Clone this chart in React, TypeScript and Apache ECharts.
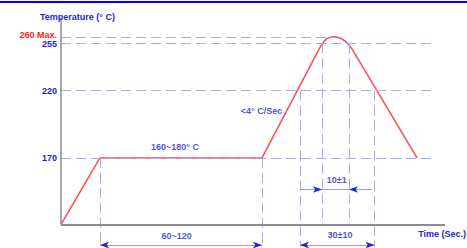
import React, { useEffect, useRef } from "react";
import * as echarts from "echarts";

// Reflow profile (schematic): time in arbitrary chart units, temperature in °C
const PROFILE_TIME = [0, 39, 201, 257, 260, 263, 266, 270, 273, 276, 280, 284, 288, 291, 356];
const PROFILE_TEMP = [120.5, 170, 170, 249.3, 253.4, 256.6, 258.7, 259.8, 260, 259.8, 258.8, 256.8, 254.0, 251.0, 170];

// Horizontal guide levels
const LEVEL_TEMPS = [170, 220, 255, 260];
const LEVEL_LABELS = ["170", "220", "255", "260 Max."];
const LEVEL_END_TIMES = [371, 371, 371, 274];

// Vertical guides
const VERTICAL_TIMES = [39, 201, 239, 261, 288, 313.5];
const VERTICAL_TOP_TEMPS = [170, 170, 220, 255, 255, 220];
const VERTICAL_BOTTOM_TEMPS = [104, 104, 104, 120.5, 120.5, 104];

// Axis extents
const AXIS_BASE_TEMP = 120.5;
const AXIS_TOP_TEMP = 274;
const AXIS_END_TIME = 384;

// Dimension annotations
const DIM_LABELS = ["60~120", "30±10"];
const DIM_STARTS = [39, 239];
const DIM_ENDS = [201, 313.5];
const DIM_TEMP = 105.2;
const INNER_DIM_LABEL = "10±1";
const INNER_DIM_OUTER = [239, 311];
const INNER_DIM_INNER = [261, 288];
const INNER_DIM_TEMP = 146.5;

const BLUE = "#1e1ed8";
const FONT = "'Liberation Sans', Arial, sans-serif";

export default function App() {
  const ref = useRef<HTMLDivElement>(null);
  useEffect(() => {
    if (!ref.current) return;
    const chart = echarts.init(ref.current, null, { renderer: "svg" });

    const textStyle = { color: BLUE, fontSize: 9, fontWeight: "bold", fontFamily: FONT };

    const levelLines = LEVEL_TEMPS.map((t, i) => [
      {
        coord: [0, t],
        label: {
          show: true,
          position: "start",
          distance: 4,
          formatter: LEVEL_LABELS[i],
          ...textStyle,
          color: i === 3 ? "#ff1a1a" : BLUE,
          offset: i === 3 ? [0, -2] : [0, 0],
        },
      },
      { coord: [LEVEL_END_TIMES[i], t] },
    ]);
    const verticalLines = VERTICAL_TIMES.map((x, i) => [
      { coord: [x, VERTICAL_TOP_TEMPS[i]] },
      { coord: [x, VERTICAL_BOTTOM_TEMPS[i]] },
    ]);
    const dimLines = DIM_STARTS.map((s, i) => [
      { coord: [s, DIM_TEMP] },
      { coord: [DIM_ENDS[i], DIM_TEMP] },
    ]);
    dimLines.push([
      { coord: [INNER_DIM_OUTER[0], INNER_DIM_TEMP] },
      { coord: [INNER_DIM_OUTER[1], INNER_DIM_TEMP] },
    ]);

    const option: any = {
      animation: false,
      grid: { left: 61, right: 22, top: 18, bottom: 0 },
      xAxis: { type: "value", min: 0, max: AXIS_END_TIME, show: false },
      yAxis: { type: "value", min: 103, max: AXIS_TOP_TEMP, show: false },
      graphic: [
        { type: "rect", left: 0, top: 1, shape: { width: 467, height: 2 }, style: { fill: "#0000ff" } },
        {
          type: "text",
          x: 40,
          y: 17,
          style: { text: "Temperature (° C)", fill: BLUE, font: `bold 9px ${FONT}`, textVerticalAlign: "middle" },
          z: 10,
        },
        {
          type: "text",
          x: 466,
          y: 233.5,
          style: { text: "Time (Sec.)", fill: BLUE, font: `bold 9px ${FONT}`, textAlign: "right", textVerticalAlign: "middle" },
        },
      ],
      series: [
        {
          name: "guides",
          type: "line",
          data: [],
          z: 1,
          clip: false,
          markLine: {
            silent: true,
            symbol: ["none", "none"],
            label: { show: false },
            lineStyle: { color: "#a6abf2", width: 1, type: [10, 5] },
            data: [...levelLines, ...verticalLines],
          },
        },
        {
          name: "axes",
          type: "line",
          data: [],
          z: 2,
          clip: false,
          markLine: {
            silent: true,
            symbol: ["none", "none"],
            label: { show: false },
            lineStyle: { color: "#8c8c8c", width: 2, type: "solid" },
            data: [
              [{ coord: [0, AXIS_BASE_TEMP] }, { coord: [AXIS_END_TIME, AXIS_BASE_TEMP] }],
              [{ coord: [0, AXIS_BASE_TEMP] }, { coord: [0, AXIS_TOP_TEMP], lineStyle: { width: 1.5 } }],
            ],
          },
        },
        {
          name: "dimLines",
          type: "line",
          data: [],
          z: 2,
          clip: false,
          markLine: {
            silent: true,
            symbol: ["none", "none"],
            label: { show: false },
            lineStyle: { color: "#9a9cf0", width: 1, type: "solid" },
            data: dimLines,
          },
        },
        {
          name: "arrowsBoth",
          type: "line",
          data: [],
          z: 3,
          clip: false,
          markLine: {
            silent: true,
            symbol: ["arrow", "arrow"],
            symbolSize: [5, 9],
            label: { show: false },
            lineStyle: { color: "#2020e0", width: 0, type: "solid" },
            data: DIM_STARTS.map((s, i) => [{ coord: [s, DIM_TEMP] }, { coord: [DIM_ENDS[i], DIM_TEMP] }]),
          },
        },
        {
          name: "arrowsInner",
          type: "line",
          data: [],
          z: 3,
          clip: false,
          markLine: {
            silent: true,
            symbol: ["none", "arrow"],
            symbolSize: [5, 9],
            label: { show: false },
            lineStyle: { color: "#2020e0", width: 0, type: "solid" },
            data: INNER_DIM_OUTER.map((o, i) => [
              { coord: [o, INNER_DIM_TEMP] },
              { coord: [INNER_DIM_INNER[i], INNER_DIM_TEMP] },
            ]),
          },
        },
        {
          name: "annotations",
          type: "scatter",
          symbolSize: 0,
          z: 5,
          silent: true,
          label: { show: true, position: "inside", formatter: (p: any) => p.name, ...textStyle },
          data: [
            { name: "160~180° C", value: [114, 178.3] },
            { name: "<4° C/Sec", value: [200.5, 204.9] },
            { name: INNER_DIM_LABEL, value: [275.7, 153.6] },
            { name: DIM_LABELS[0], value: [115.7, 112.2] },
            { name: DIM_LABELS[1], value: [279, 112.7] },
          ],
        },
        {
          name: "profile",
          type: "line",
          z: 4,
          clip: false,
          symbol: "none",
          lineStyle: { color: "#ff4a4a", width: 1.5 },
          data: PROFILE_TIME.map((t, i) => [t, PROFILE_TEMP[i]]),
        },
      ],
    };
    chart.setOption(option);
    return () => chart.dispose();
  }, []);
  return <div ref={ref} style={{ position: "absolute", left: 0, top: 0, width: 467, height: 248 }} />;
}
